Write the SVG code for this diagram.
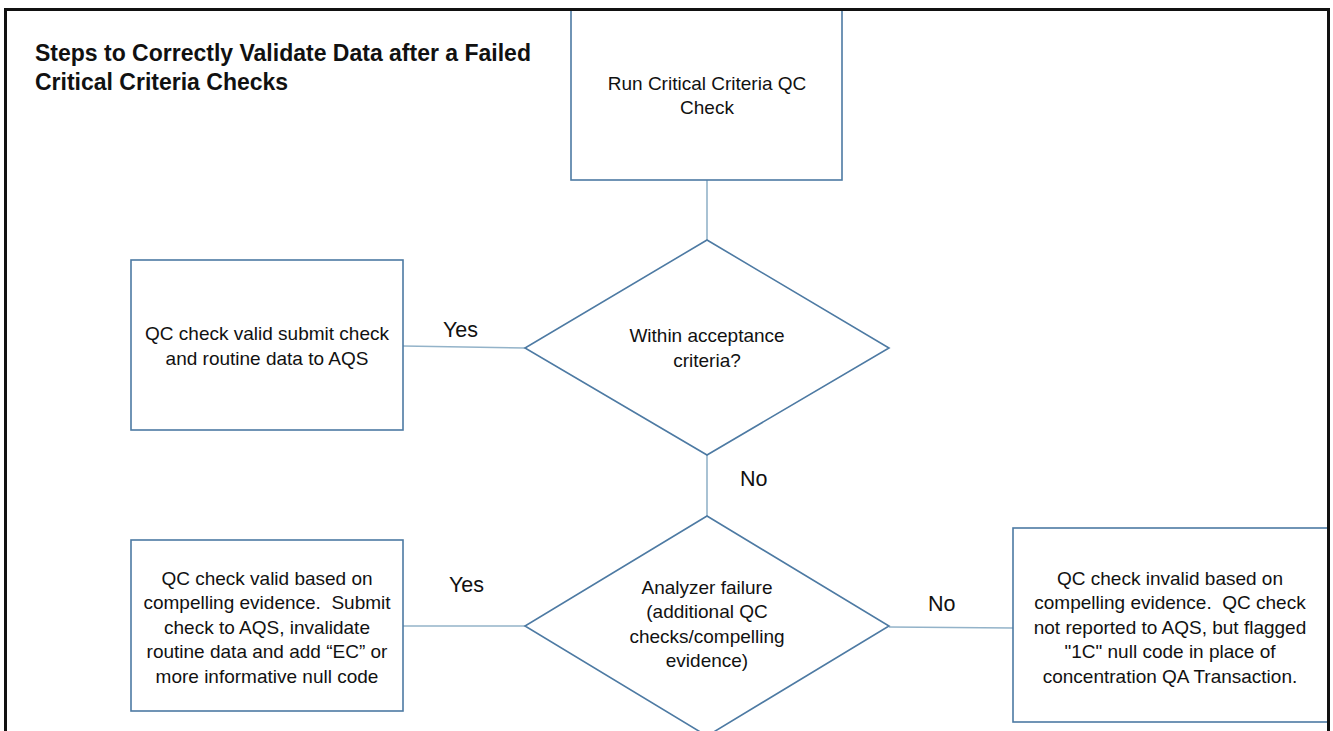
<svg xmlns="http://www.w3.org/2000/svg" width="1333" height="731" viewBox="0 0 1333 731">
<style>
.box{fill:#fff;stroke:#4d7aa3;stroke-width:1.6}
.conn{fill:none;stroke:#93b3c9;stroke-width:1.6}
.t{font-family:"Liberation Sans",Arial,sans-serif;font-size:19px;fill:#111;text-anchor:middle}
.lbl{font-family:"Liberation Sans",Arial,sans-serif;font-size:21.5px;fill:#111}
.title{font-family:"Liberation Sans",Arial,sans-serif;font-size:23px;font-weight:bold;fill:#111}
</style>
<rect x="0" y="0" width="1333" height="731" fill="#fff"/>
<g id="connectors">
<line class="conn" x1="707" y1="180" x2="707" y2="240"/>
<line class="conn" x1="403" y1="346" x2="525" y2="348"/>
<line class="conn" x1="707" y1="455" x2="707" y2="516"/>
<line class="conn" x1="403" y1="626" x2="525" y2="626"/>
<line class="conn" x1="889" y1="627" x2="1013" y2="628"/>
</g>
<g id="node-start">
<rect class="box" x="571" y="9" width="271" height="171"/>
<text class="t" x="707" y="90">Run Critical Criteria QC</text>
<text class="t" x="707" y="114">Check</text>
</g>
<g id="node-decision1">
<polygon class="box" points="707,240 889,348 707,455 525,348"/>
<text class="t" x="707" y="342">Within acceptance</text>
<text class="t" x="707" y="367">criteria?</text>
</g>
<g id="node-yes1">
<rect class="box" x="131" y="260" width="272" height="170"/>
<text class="t" x="267" y="340">QC check valid submit check</text>
<text class="t" x="267" y="365">and routine data to AQS</text>
</g>
<g id="node-decision2">
<polygon class="box" points="707,516 889,626 707,736 525,626"/>
<text class="t" x="707" y="594">Analyzer failure</text>
<text class="t" x="707" y="618">(additional QC</text>
<text class="t" x="707" y="643">checks/compelling</text>
<text class="t" x="707" y="667">evidence)</text>
</g>
<g id="node-yes2">
<rect class="box" x="131" y="540" width="272" height="171"/>
<text class="t" x="267" y="585">QC check valid based on</text>
<text class="t" x="267" y="609">compelling evidence.&#160; Submit</text>
<text class="t" x="267" y="634">check to AQS, invalidate</text>
<text class="t" x="267" y="658">routine data and add “EC” or</text>
<text class="t" x="267" y="683">more informative null code</text>
</g>
<g id="node-no2">
<rect class="box" x="1013" y="528" width="315" height="194"/>
<text class="t" x="1170" y="585">QC check invalid based on</text>
<text class="t" x="1170" y="609">compelling evidence.&#160; QC check</text>
<text class="t" x="1170" y="634">not reported to AQS, but flagged</text>
<text class="t" x="1170" y="658">"1C" null code in place of</text>
<text class="t" x="1170" y="683">concentration QA Transaction.</text>
</g>
<g id="labels">
<text class="lbl" x="443" y="337">Yes</text>
<text class="lbl" x="740" y="486">No</text>
<text class="lbl" x="449" y="592">Yes</text>
<text class="lbl" x="928" y="611">No</text>
</g>
<g id="title">
<text class="title" x="35" y="61">Steps to Correctly Validate Data after a Failed</text>
<text class="title" x="35" y="90">Critical Criteria Checks</text>
</g>
<path d="M5.5,745 V9.5 H1328.5 V745" fill="none" stroke="#111" stroke-width="3"/>
</svg>
